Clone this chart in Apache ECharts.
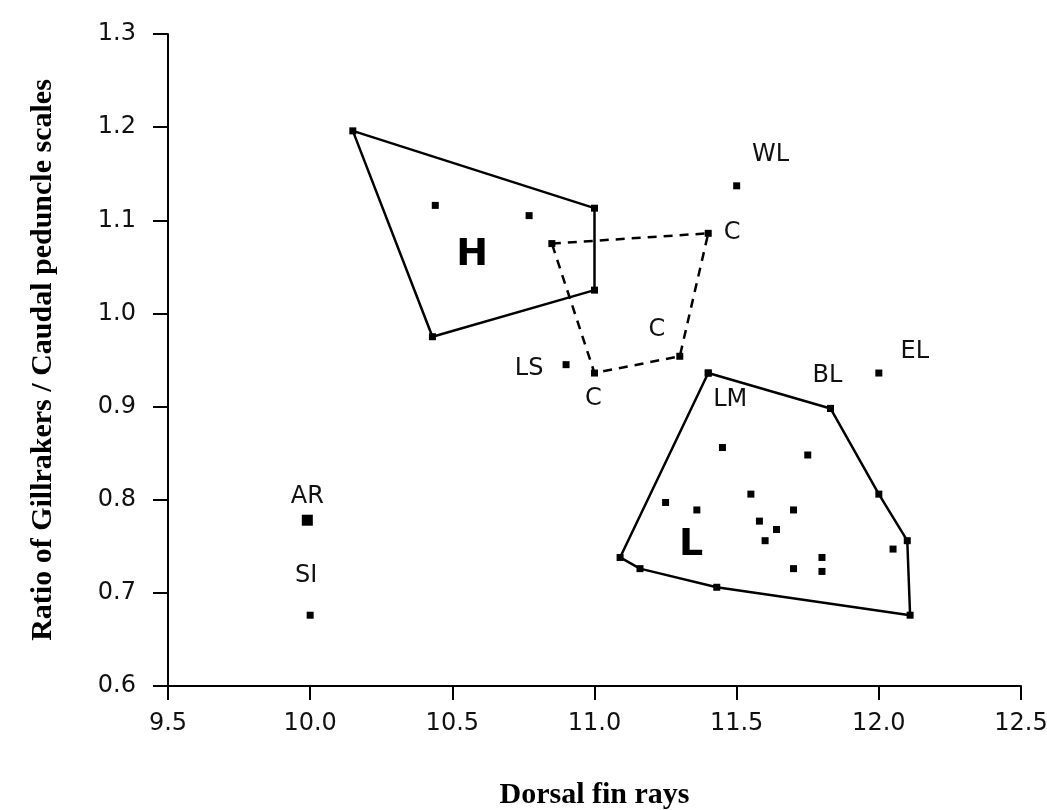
<!DOCTYPE html>
<html lang="en">
<head>
<meta charset="UTF-8">
<title>Gillrakers / caudal peduncle scales vs dorsal fin rays</title>
<script src="https://cdn.jsdelivr.net/npm/echarts@6/dist/echarts.min.js"></script>
<style>html,body{margin:0;background:#fff;}</style>
</head>
<body>
<div id="main" style="width:1047px;height:810px;"></div>
<script>
// hull outlines (first vertex repeated to close the shape)
const hullH = [[10.15, 1.196], [11.0, 1.113], [11.0, 1.025], [10.43, 0.975], [10.15, 1.196]];
const hullC = [[10.85, 1.075], [11.40, 1.086], [11.30, 0.954], [11.0, 0.936], [10.85, 1.075]];
const hullL = [[11.40, 0.936], [11.83, 0.898], [12.0, 0.806], [12.10, 0.756], [12.11, 0.676],
               [11.43, 0.706], [11.16, 0.726], [11.09, 0.738], [11.40, 0.936]];

// points inside the hulls
const innerH = [[10.44, 1.116], [10.77, 1.105]];
const innerL = [[11.45, 0.856], [11.75, 0.848], [11.25, 0.797], [11.36, 0.789], [11.55, 0.806],
                [11.70, 0.789], [11.58, 0.777], [11.64, 0.768], [11.60, 0.756], [12.05, 0.747],
                [11.80, 0.738], [11.80, 0.723], [11.70, 0.726]];

// labelled points: id, text, x, y
const namedPoints = [
  ['wl', 'WL', 11.50, 1.137],
  ['c1', 'C', 11.40, 1.086],
  ['c2', 'C', 11.30, 0.954],
  ['c3', 'C', 11.0, 0.936],
  ['ls', 'LS', 10.90, 0.945],
  ['lm', 'LM', 11.40, 0.936],
  ['bl', 'BL', 11.83, 0.898],
  ['el', 'EL', 12.0, 0.936],
  ['si', 'SI', 10.0, 0.676]
];
const arPoint = ['ar', 'AR', 9.99, 0.778];

// group letters placed in data space
const groupLabels = [['H', 10.57, 1.063], ['L', 11.34, 0.751]];

const xTicks = [9.5, 10.0, 10.5, 11.0, 11.5, 12.0, 12.5];
const yTicks = [0.6, 0.7, 0.8, 0.9, 1.0, 1.1, 1.2, 1.3];

// label offsets in pixels from the marker centre
const labelOffset = {
  wl: [34, -31], c1: [24, -1], c2: [-23, -27], c3: [-1, 26], ls: [-37, 4],
  lm: [22, 27], bl: [-3, -33], el: [36, -21], si: [-4, -39], ar: [0, -23]
};

const ink = '#000';
const tickFont = 'DejaVu Sans';

function pointItem(p) {
  return {
    value: [p[2], p[3]],
    label: { show: true, formatter: p[1], position: 'inside', offset: labelOffset[p[0]] }
  };
}

function hullSeries(data, dashed) {
  return {
    type: 'line', data: data, symbol: 'none', silent: true, z: 1,
    lineStyle: { color: ink, width: 2.5, type: dashed ? [9, 7] : 'solid' }
  };
}

const pointLabelStyle = { color: '#111', fontFamily: tickFont, fontSize: 24 };
const markStyle = { color: ink, opacity: 1 };

const option = {
  animation: false,
  backgroundColor: '#fff',
  grid: { left: 168, right: 26, top: 34, bottom: 124, outerBoundsMode: 'none' },
  xAxis: {
    type: 'value', min: xTicks[0], max: xTicks[xTicks.length - 1], interval: 0.5,
    name: 'Dorsal fin rays', nameLocation: 'middle', nameGap: 94,
    nameTextStyle: { fontFamily: 'Liberation Serif', fontWeight: 'bold', fontSize: 30, color: '#000' },
    axisLine: { onZero: false, lineStyle: { color: ink, width: 2 } },
    axisTick: { length: 14, lineStyle: { color: ink, width: 2 } },
    axisLabel: { margin: 26, color: '#111', fontFamily: tickFont, fontSize: 24,
      formatter: v => v.toFixed(1) },
    splitLine: { show: false }
  },
  yAxis: {
    type: 'value', min: yTicks[0], max: yTicks[yTicks.length - 1], interval: 0.1,
    name: 'Ratio of Gillrakers / Caudal peduncle scales', nameLocation: 'middle', nameGap: 110,
    nameTextStyle: { fontFamily: 'Liberation Serif', fontWeight: 'bold', fontSize: 30, color: '#000' },
    axisLine: { onZero: false, lineStyle: { color: ink, width: 2 } },
    axisTick: { length: 15, lineStyle: { color: ink, width: 2 } },
    axisLabel: { margin: 32, color: '#111', fontFamily: tickFont, fontSize: 24,
      formatter: v => v.toFixed(1) },
    splitLine: { show: false }
  },
  series: [
    hullSeries(hullH, false),
    hullSeries(hullC, true),
    hullSeries(hullL, false),
    {
      type: 'scatter', symbol: 'rect', symbolSize: 7, z: 3,
      itemStyle: markStyle,
      data: hullH.slice(0, -1).concat(hullL.slice(0, -1), [hullC[0]], innerH, innerL)
    },
    {
      type: 'scatter', symbol: 'rect', symbolSize: 7, z: 3,
      itemStyle: markStyle, label: pointLabelStyle,
      data: namedPoints.map(pointItem)
    },
    {
      type: 'scatter', symbol: 'rect', symbolSize: 11, z: 3,
      itemStyle: markStyle, label: pointLabelStyle,
      data: [pointItem(arPoint)]
    },
    {
      type: 'scatter', symbolSize: 1, silent: true, z: 4,
      itemStyle: { color: 'rgba(0,0,0,0)', opacity: 1 },
      label: { show: true, position: 'inside', color: '#000', fontFamily: tickFont,
        fontWeight: 'bold', fontSize: 38, formatter: p => p.data.name },
      data: groupLabels.map(g => ({ name: g[0], value: [g[1], g[2]] }))
    }
  ]
};

const myChart = echarts.init(document.getElementById('main'));
myChart.setOption(option);
</script>
</body>
</html>
